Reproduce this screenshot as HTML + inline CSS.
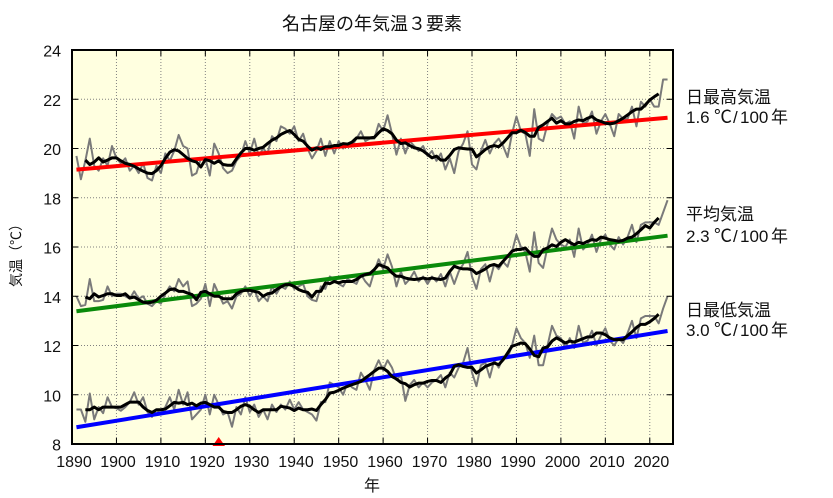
<!DOCTYPE html>
<html>
<head>
<meta charset="utf-8">
<style>
html,body{margin:0;padding:0;background:#fff;}
svg{display:block;}
text{font-family:"Liberation Sans","Noto Sans CJK JP",sans-serif;fill:#111;}
.cjk{font-family:"Noto Sans CJK JP","Liberation Sans",sans-serif;}
</style>
</head>
<body>
<svg width="833" height="498" viewBox="0 0 833 498" xmlns="http://www.w3.org/2000/svg">
<rect width="833" height="498" fill="#fff"/>
<rect x="72" y="50" width="601" height="394" fill="#ffffe0"/>

<g stroke="#808080" stroke-width="1" stroke-dasharray="1,2" fill="none">
<line x1="116.44" y1="50" x2="116.44" y2="444"/>
<line x1="160.89" y1="50" x2="160.89" y2="444"/>
<line x1="205.33" y1="50" x2="205.33" y2="444"/>
<line x1="249.78" y1="50" x2="249.78" y2="444"/>
<line x1="294.22" y1="50" x2="294.22" y2="444"/>
<line x1="338.67" y1="50" x2="338.67" y2="444"/>
<line x1="383.11" y1="50" x2="383.11" y2="444"/>
<line x1="427.56" y1="50" x2="427.56" y2="444"/>
<line x1="472" y1="50" x2="472" y2="444"/>
<line x1="516.44" y1="50" x2="516.44" y2="444"/>
<line x1="560.89" y1="50" x2="560.89" y2="444"/>
<line x1="605.33" y1="50" x2="605.33" y2="444"/>
<line x1="649.78" y1="50" x2="649.78" y2="444"/>
<line x1="72" y1="99.25" x2="673" y2="99.25"/>
<line x1="72" y1="148.5" x2="673" y2="148.5"/>
<line x1="72" y1="197.75" x2="673" y2="197.75"/>
<line x1="72" y1="247" x2="673" y2="247"/>
<line x1="72" y1="296.25" x2="673" y2="296.25"/>
<line x1="72" y1="345.5" x2="673" y2="345.5"/>
<line x1="72" y1="394.75" x2="673" y2="394.75"/>
</g>

<g transform="matrix(4.4444 0 0 -24.625 72 641)" fill="none" stroke-linejoin="round" stroke-linecap="butt">
<polyline vector-effect="non-scaling-stroke" stroke="#7a7a7a" stroke-width="2" points="1,19.7 2,18.75 3,19.5 4,20.4 5,19.3 6,19.1 7,19.6 8,19.3 9,20.1 10,19.6 11,19.4 12,19.6 13,19.1 14,19.3 15,19.0 16,19.4 17,18.8 18,18.7 19,19.3 20,19.0 21,19.8 22,19.5 23,19.9 24,20.55 25,20.1 26,20.0 27,18.9 28,19.0 29,19.6 30,19.6 31,18.9 32,20.2 33,19.8 34,19.2 35,19.0 36,19.1 37,19.5 38,19.7 39,20.3 40,19.8 41,20.4 42,19.7 43,20.0 44,19.8 45,20.5 46,20.3 47,20.9 48,20.8 49,20.6 50,20.9 51,20.3 52,20.6 53,20.0 54,19.6 55,19.9 56,20.4 57,19.7 58,20.3 59,19.8 60,20.3 61,20.0 62,20.2 63,20.1 64,20.4 65,20.7 66,20.3 67,20.4 68,20.4 69,21.0 70,20.7 71,21.35 72,20.6 73,19.75 74,20.4 75,19.8 76,20.3 77,20.1 78,19.9 79,20.1 80,19.7 81,19.9 82,19.5 83,19.8 84,19.15 85,19.6 86,19.0 87,19.9 88,20.2 89,20.7 90,19.35 91,19.15 92,19.9 93,20.35 94,19.8 95,20.2 96,20.4 97,20.1 98,19.65 99,20.6 100,21.3 101,20.7 102,20.6 103,19.7 104,21.6 105,20.4 106,20.3 107,21.0 108,21.4 109,21.2 110,21.3 111,21.0 112,21.1 113,20.4 114,21.7 115,21.0 116,21.1 117,21.5 118,20.6 119,21.1 120,21.4 121,21.0 122,20.5 123,21.4 124,21.2 125,21.2 126,21.7 127,20.9 128,21.9 129,21.7 130,22.0 131,21.7 132,21.7 133,22.8 134,22.8"/>
<polyline vector-effect="non-scaling-stroke" stroke="#7a7a7a" stroke-width="2" points="1,14.0 2,13.6 3,13.65 4,14.7 5,13.8 6,13.8 7,13.85 8,14.4 9,14.0 10,14.1 11,14.1 12,14.0 13,13.9 14,14.2 15,13.9 16,14.0 17,13.7 18,13.6 19,13.8 20,13.7 21,14.1 22,14.4 23,14.2 24,14.7 25,14.4 26,14.6 27,13.6 28,13.7 29,13.9 30,14.5 31,13.6 32,14.5 33,14.1 34,13.7 35,13.8 36,13.5 37,14.0 38,14.1 39,14.4 40,14.0 41,14.3 42,13.8 43,14.0 44,13.8 45,14.4 46,14.1 47,14.4 48,14.3 49,14.6 50,14.3 51,14.4 52,14.5 53,14.0 54,13.85 55,13.8 56,14.4 57,14.3 58,14.8 59,14.7 60,14.5 61,14.4 62,14.7 63,14.6 64,14.5 65,14.9 66,14.6 67,14.4 68,15.0 69,15.5 70,15.1 71,15.7 72,15.2 73,14.4 74,15.0 75,14.5 76,14.7 77,15.0 78,14.6 79,14.8 80,14.5 81,14.8 82,14.6 83,14.9 84,14.4 85,15.0 86,14.5 87,15.0 88,15.3 89,15.8 90,14.8 91,14.3 92,15.1 93,15.3 94,14.6 95,15.3 96,15.1 97,15.4 98,15.2 99,15.8 100,16.5 101,16.0 102,15.8 103,15.0 104,16.6 105,15.35 106,15.15 107,16.0 108,16.75 109,16.3 110,16.1 111,16.0 112,16.3 113,15.6 114,16.75 115,15.9 116,16.1 117,16.5 118,15.8 119,16.3 120,16.5 121,16.1 122,15.9 123,16.4 124,16.1 125,16.4 126,16.9 127,16.2 128,16.9 129,17.0 130,17.0 131,17.0 132,16.9 133,17.4 134,17.9"/>
<polyline vector-effect="non-scaling-stroke" stroke="#7a7a7a" stroke-width="2" points="1,9.4 2,9.4 3,8.9 4,10.05 5,9.0 6,9.5 7,9.25 8,9.9 9,9.5 10,9.45 11,9.35 12,9.5 13,9.7 14,10.1 15,9.6 16,9.9 17,9.3 18,9.1 19,9.4 20,9.2 21,9.5 22,9.9 23,9.4 24,10.2 25,9.6 26,10.1 27,9.0 28,9.2 29,9.4 30,10.0 31,9.2 32,10.0 33,9.6 34,9.2 35,9.3 36,8.7 37,9.5 38,9.2 39,9.9 40,9.3 41,9.6 42,9.1 43,9.4 44,9.0 45,9.6 46,9.3 47,9.6 48,9.4 49,9.8 50,9.4 51,9.7 52,9.4 53,9.3 54,9.2 55,8.95 56,9.7 57,9.7 58,10.5 59,10.4 60,10.3 61,10.0 62,10.5 63,10.3 64,10.2 65,10.9 66,10.6 67,10.2 68,11.0 69,11.4 70,11.0 71,11.4 72,11.1 73,10.6 74,10.8 75,9.75 76,10.4 77,10.6 78,10.3 79,10.5 80,10.3 81,10.5 82,10.6 83,10.8 84,10.3 85,10.9 86,10.7 87,11.1 88,11.3 89,11.9 90,10.9 91,10.35 92,11.2 93,11.3 94,10.7 95,11.4 96,11.1 97,11.5 98,11.5 99,12.0 100,12.7 101,12.3 102,12.1 103,11.5 104,12.4 105,11.2 106,11.2 107,12.0 108,12.8 109,12.4 110,12.3 111,11.9 112,12.3 113,11.9 114,12.8 115,12.1 116,12.2 117,12.6 118,12.0 119,12.4 120,12.7 121,12.2 122,12.0 123,12.3 124,12.1 125,12.5 126,13.0 127,12.3 128,13.1 129,13.2 130,13.2 131,13.2 132,12.9 133,13.5 134,14.0"/>

<line vector-effect="non-scaling-stroke" stroke="#ff0000" stroke-width="4" x1="1" y1="19.14" x2="134" y2="21.25"/>
<line vector-effect="non-scaling-stroke" stroke="#0a8a0a" stroke-width="4" x1="1" y1="13.39" x2="134" y2="16.46"/>
<line vector-effect="non-scaling-stroke" stroke="#0000ff" stroke-width="4" x1="1" y1="8.68" x2="134" y2="12.59"/>

<polyline vector-effect="non-scaling-stroke" stroke="#000" stroke-width="3" points="3,19.53 4,19.35 5,19.45 6,19.62 7,19.45 8,19.53 9,19.62 10,19.62 11,19.5 12,19.4 13,19.35 14,19.28 15,19.17 16,19.08 17,19.0 18,18.98 19,19.1 20,19.3 21,19.6 22,19.85 23,19.95 24,19.9 25,19.75 26,19.6 27,19.5 28,19.45 29,19.25 30,19.55 31,19.5 32,19.4 33,19.5 34,19.35 35,19.32 36,19.32 37,19.58 38,19.82 39,20.0 40,20.0 41,19.93 42,20.0 43,20.05 44,20.2 45,20.34 46,20.43 47,20.57 48,20.66 49,20.73 50,20.57 51,20.37 52,20.3 53,20.1 54,19.93 55,20.03 56,19.96 57,20.07 58,20.07 59,20.12 60,20.12 61,20.2 62,20.18 63,20.26 64,20.43 65,20.43 66,20.43 67,20.43 68,20.45 69,20.64 70,20.8 71,20.73 72,20.6 73,20.34 74,20.2 75,20.23 76,20.12 77,20.03 78,19.99 79,19.9 80,19.76 81,19.62 82,19.69 83,19.53 84,19.53 85,19.72 86,19.96 87,20.03 88,20.0 89,19.98 90,19.98 91,19.66 92,19.8 93,19.96 94,20.07 95,20.12 96,20.07 97,20.23 98,20.43 99,20.64 100,20.64 101,20.74 102,20.65 103,20.5 104,20.5 105,20.86 106,20.96 107,21.1 108,21.23 109,21.03 110,21.13 111,21.0 112,21.0 113,21.1 114,21.16 115,21.13 116,21.23 117,21.3 118,21.16 119,21.1 120,21.03 121,21.0 122,21.03 123,21.13 124,21.23 125,21.36 126,21.5 127,21.6 128,21.6 129,21.77 130,21.97 131,22.1 132,22.22"/>
<polyline vector-effect="non-scaling-stroke" stroke="#000" stroke-width="3" points="3,13.97 4,13.9 5,14.1 6,13.97 7,14.03 8,14.1 9,14.1 10,14.03 11,14.03 12,14.1 13,13.93 14,13.97 15,13.86 16,13.76 17,13.73 18,13.76 19,13.84 20,14.0 21,14.13 22,14.27 23,14.3 24,14.2 25,14.2 26,14.13 27,14.07 28,13.86 29,14.16 30,14.2 31,14.1 32,14.0 33,14.0 34,13.9 35,13.9 36,13.9 37,14.1 38,14.2 39,14.24 40,14.24 41,14.2 42,14.16 43,14.0 44,14.1 45,14.13 46,14.27 47,14.38 48,14.47 49,14.47 50,14.4 51,14.27 52,14.2 53,14.16 54,13.97 55,14.2 56,14.2 57,14.54 58,14.51 59,14.6 60,14.54 61,14.6 62,14.6 63,14.6 64,14.68 65,14.81 66,14.88 67,14.92 68,15.08 69,15.29 70,15.22 71,15.15 72,14.95 73,14.81 74,14.81 75,14.74 76,14.7 77,14.68 78,14.7 79,14.74 80,14.7 81,14.74 82,14.7 83,14.68 84,14.74 85,15.01 86,15.22 87,15.15 88,15.11 89,15.11 90,15.08 91,14.92 92,15.01 93,15.11 94,15.24 95,15.29 96,15.22 97,15.42 98,15.62 99,15.83 100,15.9 101,15.9 102,15.96 103,15.76 104,15.62 105,15.62 106,15.89 107,15.96 108,16.09 109,16.02 110,16.19 111,16.3 112,16.19 113,16.09 114,16.19 115,16.14 116,16.23 117,16.3 118,16.27 119,16.4 120,16.36 121,16.3 122,16.27 123,16.23 124,16.27 125,16.36 126,16.4 127,16.54 128,16.7 129,16.87 130,16.77 131,17.0 132,17.18"/>
<polyline vector-effect="non-scaling-stroke" stroke="#000" stroke-width="3" points="3,9.39 4,9.39 5,9.5 6,9.39 7,9.5 8,9.5 9,9.5 10,9.5 11,9.5 12,9.6 13,9.7 14,9.7 15,9.7 16,9.5 17,9.36 18,9.28 19,9.39 20,9.39 21,9.42 22,9.55 23,9.69 24,9.66 25,9.69 26,9.6 27,9.66 28,9.55 29,9.66 30,9.69 31,9.6 32,9.5 33,9.5 34,9.32 35,9.28 36,9.28 37,9.39 38,9.53 39,9.6 40,9.53 41,9.39 42,9.28 43,9.39 44,9.39 45,9.39 46,9.39 47,9.53 48,9.5 49,9.46 50,9.36 51,9.46 52,9.39 53,9.39 54,9.42 55,9.36 56,9.6 57,9.8 58,10.07 59,10.1 60,10.18 61,10.27 62,10.34 63,10.41 64,10.47 65,10.54 66,10.68 67,10.81 68,10.95 69,11.08 70,11.08 71,10.95 72,10.74 73,10.64 74,10.5 75,10.45 76,10.31 77,10.41 78,10.47 79,10.47 80,10.54 81,10.58 82,10.58 83,10.5 84,10.68 85,10.81 86,11.15 87,11.22 88,11.15 89,11.11 90,11.11 91,10.88 92,11.01 93,11.15 94,11.22 95,11.29 96,11.22 97,11.42 98,11.69 99,11.97 100,12.03 101,12.1 102,12.07 103,11.86 104,11.6 105,11.54 106,11.9 107,11.94 108,12.18 109,12.31 110,12.21 111,12.1 112,12.18 113,12.14 114,12.21 115,12.28 116,12.35 117,12.35 118,12.51 119,12.51 120,12.44 121,12.31 122,12.24 123,12.24 124,12.24 125,12.4 126,12.55 127,12.73 128,12.86 129,12.86 130,12.96 131,13.1 132,13.27"/>
</g>

<g stroke="#000" stroke-width="1">
<line x1="72" y1="99.25" x2="78" y2="99.25"/><line x1="667" y1="99.25" x2="673" y2="99.25"/>
<line x1="72" y1="148.5" x2="78" y2="148.5"/><line x1="667" y1="148.5" x2="673" y2="148.5"/>
<line x1="72" y1="197.75" x2="78" y2="197.75"/><line x1="667" y1="197.75" x2="673" y2="197.75"/>
<line x1="72" y1="247" x2="78" y2="247"/><line x1="667" y1="247" x2="673" y2="247"/>
<line x1="72" y1="296.25" x2="78" y2="296.25"/><line x1="667" y1="296.25" x2="673" y2="296.25"/>
<line x1="72" y1="345.5" x2="78" y2="345.5"/><line x1="667" y1="345.5" x2="673" y2="345.5"/>
<line x1="72" y1="394.75" x2="78" y2="394.75"/><line x1="667" y1="394.75" x2="673" y2="394.75"/>
<line x1="116.44" y1="50" x2="116.44" y2="56"/><line x1="116.44" y1="438" x2="116.44" y2="444"/>
<line x1="160.89" y1="50" x2="160.89" y2="56"/><line x1="160.89" y1="438" x2="160.89" y2="444"/>
<line x1="205.33" y1="50" x2="205.33" y2="56"/><line x1="205.33" y1="438" x2="205.33" y2="444"/>
<line x1="249.78" y1="50" x2="249.78" y2="56"/><line x1="249.78" y1="438" x2="249.78" y2="444"/>
<line x1="294.22" y1="50" x2="294.22" y2="56"/><line x1="294.22" y1="438" x2="294.22" y2="444"/>
<line x1="338.67" y1="50" x2="338.67" y2="56"/><line x1="338.67" y1="438" x2="338.67" y2="444"/>
<line x1="383.11" y1="50" x2="383.11" y2="56"/><line x1="383.11" y1="438" x2="383.11" y2="444"/>
<line x1="427.56" y1="50" x2="427.56" y2="56"/><line x1="427.56" y1="438" x2="427.56" y2="444"/>
<line x1="472" y1="50" x2="472" y2="56"/><line x1="472" y1="438" x2="472" y2="444"/>
<line x1="516.44" y1="50" x2="516.44" y2="56"/><line x1="516.44" y1="438" x2="516.44" y2="444"/>
<line x1="560.89" y1="50" x2="560.89" y2="56"/><line x1="560.89" y1="438" x2="560.89" y2="444"/>
<line x1="605.33" y1="50" x2="605.33" y2="56"/><line x1="605.33" y1="438" x2="605.33" y2="444"/>
<line x1="649.78" y1="50" x2="649.78" y2="56"/><line x1="649.78" y1="438" x2="649.78" y2="444"/>
</g>

<polygon points="212.5,446 225,446 218.7,437" fill="#ff0000"/>

<rect x="72" y="50" width="601" height="394" fill="none" stroke="#000" stroke-width="2"/>

<g font-size="16" text-anchor="end">
<text x="61" y="56.5">24</text>
<text x="61" y="105.75">22</text>
<text x="61" y="155">20</text>
<text x="61" y="204.25">18</text>
<text x="61" y="253.5">16</text>
<text x="61" y="302.75">14</text>
<text x="61" y="352">12</text>
<text x="61" y="401.25">10</text>
<text x="61" y="450.5">8</text>
</g>

<g font-size="16" text-anchor="middle">
<text x="74" y="467">1890</text>
<text x="118" y="467">1900</text>
<text x="162.5" y="467">1910</text>
<text x="207" y="467">1920</text>
<text x="251.5" y="467">1930</text>
<text x="296" y="467">1940</text>
<text x="340.5" y="467">1950</text>
<text x="385" y="467">1960</text>
<text x="429.5" y="467">1970</text>
<text x="474" y="467">1980</text>
<text x="518" y="467">1990</text>
<text x="562.5" y="467">2000</text>
<text x="607" y="467">2010</text>
<text x="651.5" y="467">2020</text>
</g>

<text x="372" y="30" font-size="18" text-anchor="middle">名古屋の年気温３要素</text>
<text x="372" y="491" font-size="16" text-anchor="middle">年</text>
<text class="cjk" transform="translate(21,252) rotate(-90)" font-size="14" text-anchor="middle" textLength="70" lengthAdjust="spacingAndGlyphs">気温（℃）</text>

<g font-size="17">
<text x="686" y="103">日最高気温</text>
<text y="123"><tspan x="686">1.6</tspan><tspan x="714" font-size="18">℃</tspan><tspan x="733">/</tspan><tspan x="740">100</tspan><tspan x="771">年</tspan></text>
<text x="686" y="220">平均気温</text>
<text y="242"><tspan x="686">2.3</tspan><tspan x="714" font-size="18">℃</tspan><tspan x="733">/</tspan><tspan x="740">100</tspan><tspan x="771">年</tspan></text>
<text x="686" y="316">日最低気温</text>
<text y="336"><tspan x="686">3.0</tspan><tspan x="714" font-size="18">℃</tspan><tspan x="733">/</tspan><tspan x="740">100</tspan><tspan x="771">年</tspan></text>
</g>
</svg>
</body>
</html>
